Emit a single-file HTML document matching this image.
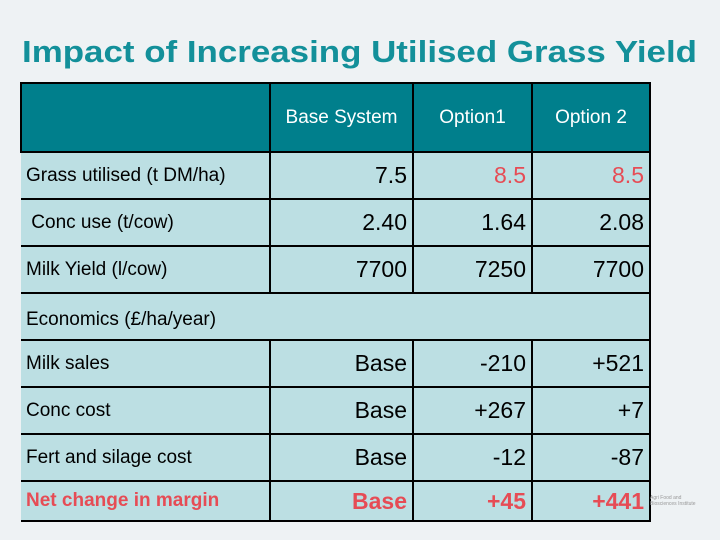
<!DOCTYPE html>
<html><head><meta charset="utf-8"><style>
body{margin:0;width:720px;height:540px;background:#eef2f4;font-family:"Liberation Sans",sans-serif;overflow:hidden;position:relative}
#t{position:absolute;left:0;top:0}
table{position:absolute;left:20px;top:82px;border-collapse:collapse;}
td{border:2px solid #000;background:#bcdfe3;padding:0 5px;font-size:23px;text-align:right;color:#000;box-sizing:border-box}
td.l{text-align:left;font-size:19px;border-left:none}
tr.h td{background:#007f8c;color:#fff;font-size:19px;height:69px}
tr.h td.l{border-left:2px solid #000}
tr.r td{height:47px}
.red{color:#e64c55;font-weight:bold}
</style></head><body>
<svg id="t" width="720" height="80"><text x="22" y="62" font-family="Liberation Sans, sans-serif" font-weight="bold" font-size="31" fill="#13909a" textLength="675" lengthAdjust="spacingAndGlyphs">Impact of Increasing Utilised Grass Yield</text></svg>
<table>
<colgroup><col style="width:249px"><col style="width:143px"><col style="width:119px"><col style="width:118px"></colgroup>
<tr class="h"><td class="l"></td><td style="text-align:center">Base System</td><td style="text-align:center">Option1</td><td style="text-align:center">Option 2</td></tr>
<tr class="r"><td class="l">Grass utilised (t DM/ha)</td><td>7.5</td><td style="color:#e64c55">8.5</td><td style="color:#e64c55">8.5</td></tr>
<tr class="r"><td class="l">&nbsp;Conc use (t/cow)</td><td>2.40</td><td>1.64</td><td>2.08</td></tr>
<tr class="r"><td class="l">Milk Yield (l/cow)</td><td>7700</td><td>7250</td><td>7700</td></tr>
<tr class="r"><td class="l" colspan="4" style="padding-top:6px">Economics (£/ha/year)</td></tr>
<tr class="r"><td class="l">Milk sales</td><td>Base</td><td>-210</td><td>+521</td></tr>
<tr class="r"><td class="l">Conc cost</td><td>Base</td><td>+267</td><td>+7</td></tr>
<tr class="r"><td class="l">Fert and silage cost</td><td>Base</td><td>-12</td><td>-87</td></tr>
<tr><td class="l red" style="height:40px">Net change in margin</td><td class="red">Base</td><td class="red">+45</td><td class="red">+441</td></tr>
</table>
<div style="position:absolute;left:650px;top:495px;font-size:5px;color:#999;line-height:6px">Agri Food and<br>Biosciences Institute</div>
</body></html>
